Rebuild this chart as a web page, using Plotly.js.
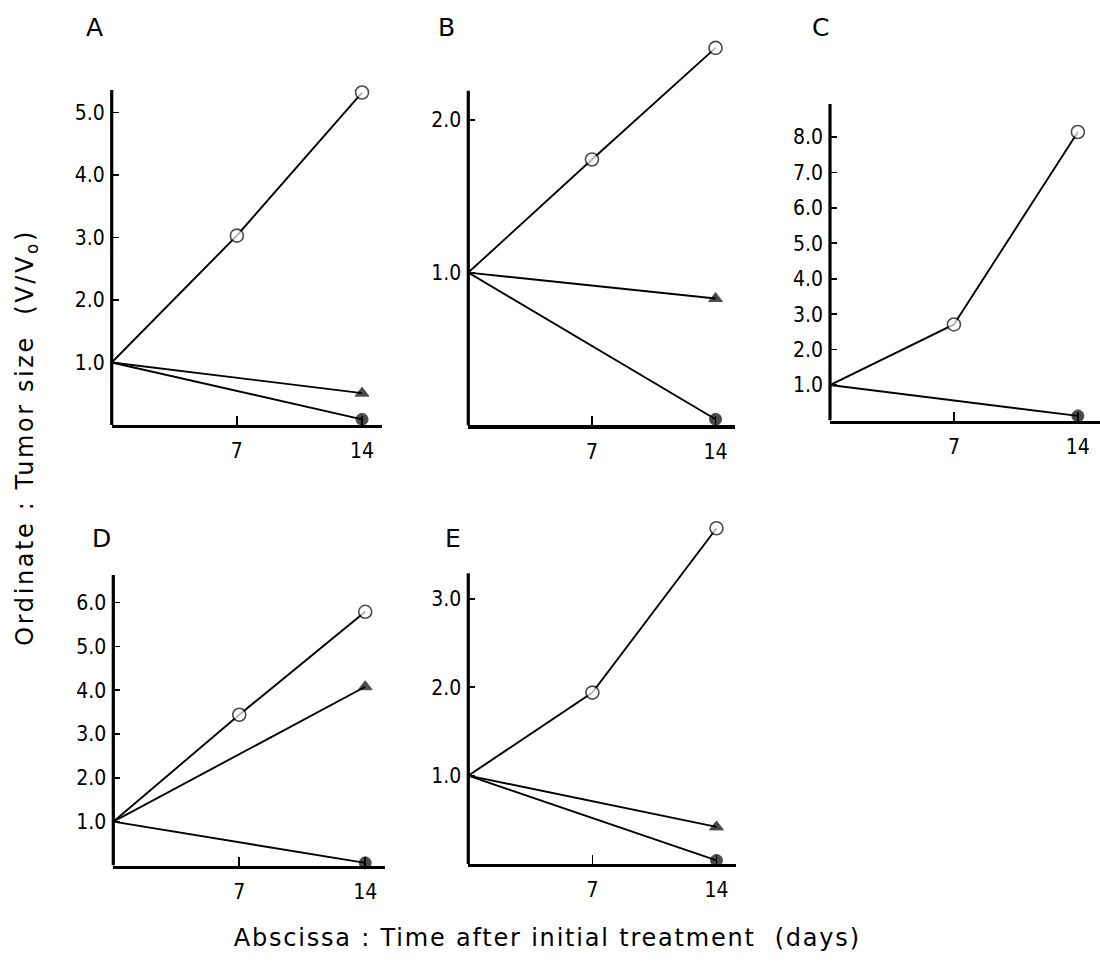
<!DOCTYPE html>
<html>
<head>
<meta charset="utf-8">
<script src="https://cdn.plot.ly/plotly-3.0.1.min.js"></script>
<style>
html,body{margin:0;padding:0;background:#fff;}
#chart{width:1100px;height:968px;}
g.annotation[data-index="5"] text{letter-spacing:2.6px;}
g.annotation[data-index="6"] text{letter-spacing:1.8px;}
</style>
</head>
<body>
<div id="chart"></div>
<script>
// Days after initial treatment
const daysOpen = [0, 7, 14];
const daysEnd = [0, 14];
const xTickVals = [7, 14];
const xTickText = ["7", "14"];

// Panel labels
const panelNames = ["A", "B", "C", "D", "E"];

// Open circles (control), V/V0
const openA = [1.0, 3.03, 5.32];
const openB = [1.0, 1.74, 2.47];
const openC = [1.0, 2.71, 8.14];
const openD = [1.0, 3.44, 5.79];
const openE = [1.0, 1.94, 3.80];

// Filled triangles
const triA = [1.0, 0.51];
const triB = [1.0, 0.83];
const triC = null;
const triD = [1.0, 4.08];
const triE = [1.0, 0.42];

// Filled circles
const dotA = [1.0, 0.09];
const dotB = [1.0, 0.04];
const dotC = [1.0, 0.13];
const dotD = [1.0, 0.06];
const dotE = [1.0, 0.04];

// y tick values per panel
const yTicksA = [1, 2, 3, 4, 5];
const yTicksB = [1, 2];
const yTicksC = [1, 2, 3, 4, 5, 6, 7, 8];
const yTicksD = [1, 2, 3, 4, 5, 6];
const yTicksE = [1, 2, 3];

const W = 1100, H = 968;
// layout geometry (pixels): x0, x1, yBottom (value 0), yTop (axis line top), xmax, axis top value
const geom = [
  {x0: 111.7, x1: 381.7, yb: 425.0, yt: 90.0, xmax: 15.1, ytop: 5.36, lx: 94, ly: 27},
  {x0: 468.3, x1: 735.0, yb: 425.4, yt: 90.7, xmax: 15.1, ytop: 2.19, lx: 446, ly: 27},
  {x0: 830.0, x1: 1100.0, yb: 420.5, yt: 104.0, xmax: 15.25, ytop: 8.93, lx: 820, ly: 27},
  {x0: 113.3, x1: 385.0, yb: 865.5, yt: 575.0, xmax: 15.1, ytop: 6.63, lx: 101, ly: 538},
  {x0: 468.3, x1: 736.0, yb: 864.0, yt: 573.3, xmax: 15.1, ytop: 3.29, lx: 453, ly: 538}
];

const opens = [openA, openB, openC, openD, openE];
const tris = [triA, triB, triC, triD, triE];
const dots = [dotA, dotB, dotC, dotD, dotE];
const yTicks = [yTicksA, yTicksB, yTicksC, yTicksD, yTicksE];

const ink = "#000";
const tickFont = {family: "Liberation Sans Narrow, DejaVu Sans Condensed, Arial Narrow, sans-serif", size: 21, color: ink};
const traces = [];
const layout = {
  width: W, height: H,
  margin: {l: 0, r: 0, t: 0, b: 0},
  paper_bgcolor: "#fff", plot_bgcolor: "rgba(0,0,0,0)",
  showlegend: false,
  annotations: [],
  shapes: [],
  font: {family: "DejaVu Sans, Arial, sans-serif", color: ink}
};

for (let i = 0; i < 5; i++) {
  const g = geom[i];
  const n = i + 1;
  const xa = n === 1 ? "x" : "x" + n;
  const ya = n === 1 ? "y" : "y" + n;
  const xk = n === 1 ? "xaxis" : "xaxis" + n;
  const yk = n === 1 ? "yaxis" : "yaxis" + n;

  // keep the same scale, but extend the range upward so points above the axis line stay visible
  const ppu = (g.yb - g.yt) / g.ytop;
  const allVals = opens[i].concat(tris[i] || [], dots[i]);
  const rTop = Math.max(g.ytop, Math.max.apply(null, allVals) + 0.25 * 62.5 / ppu);
  const domTopPx = g.yb - rTop * ppu;

  layout[xk] = {
    domain: [g.x0 / W, g.x1 / W], anchor: ya, range: [0, g.xmax],
    showgrid: false, zeroline: false, showline: true, linewidth: 3.2, linecolor: ink,
    ticks: "inside", ticklen: 9, tickwidth: 1.6, tickcolor: ink,
    tickvals: xTickVals, ticktext: xTickText, tickfont: tickFont,
    ticklabelstandoff: 5, fixedrange: true, layer: "below traces"
  };
  layout[yk] = {
    domain: [1 - g.yb / H, 1 - domTopPx / H], anchor: xa, range: [0, rTop],
    showgrid: false, zeroline: false, showline: false,
    ticks: "inside", ticklen: 7, tickwidth: 1.6, tickcolor: ink,
    tickvals: yTicks[i], tickformat: ".1f", tickfont: tickFont,
    ticklabelstandoff: 6, fixedrange: true, layer: "below traces"
  };
  // y-axis line up to its drawn top
  layout.shapes.push({
    type: "line", xref: xa + " domain", yref: ya, x0: 0, x1: 0, y0: 0, y1: g.ytop,
    line: {color: ink, width: 3.2}, layer: "below"
  });

  traces.push({
    x: daysOpen, y: opens[i], xaxis: xa, yaxis: ya, mode: "lines+markers",
    line: {color: ink, width: 1.9},
    marker: {symbol: "circle", size: [0, 13, 13], color: "#fff", line: {color: ink, width: 1.6}},
    cliponaxis: false, hoverinfo: "skip"
  });
  if (tris[i]) {
    traces.push({
      x: daysEnd, y: tris[i], xaxis: xa, yaxis: ya, mode: "lines+markers",
      line: {color: ink, width: 1.9},
      marker: {symbol: "triangle-up", size: [0, 12], color: ink, line: {color: ink, width: 1}},
      cliponaxis: false, hoverinfo: "skip"
    });
  }
  traces.push({
    x: daysEnd, y: dots[i], xaxis: xa, yaxis: ya, mode: "lines+markers",
    line: {color: ink, width: 1.9},
    marker: {symbol: "circle", size: [0, 12], color: ink, line: {color: ink, width: 1}},
    cliponaxis: false, hoverinfo: "skip"
  });

  layout.annotations.push({
    text: panelNames[i], xref: "paper", yref: "paper",
    x: g.lx / W, y: 1 - g.ly / H, xanchor: "center", yanchor: "middle",
    showarrow: false, font: {family: "DejaVu Sans, Arial, sans-serif", size: 25, color: ink}
  });
}

layout.annotations.push({
  text: "Ordinate : Tumor size&nbsp;&nbsp;(V/V<sub>o</sub>)", xref: "paper", yref: "paper",
  x: 26 / W, y: 1 - 438 / H, xanchor: "center", yanchor: "middle", textangle: -90,
  showarrow: false, font: {family: "DejaVu Sans, Arial, sans-serif", size: 24, color: ink}
});
layout.annotations.push({
  text: "Abscissa : Time after initial treatment&nbsp;&nbsp;(days)", xref: "paper", yref: "paper",
  x: 547 / W, y: 1 - 938 / H, xanchor: "center", yanchor: "middle",
  showarrow: false, font: {family: "DejaVu Sans, Arial, sans-serif", size: 24, color: ink}
});

Plotly.newPlot("chart", traces, layout, {staticPlot: true, displayModeBar: false});
</script>
</body>
</html>
